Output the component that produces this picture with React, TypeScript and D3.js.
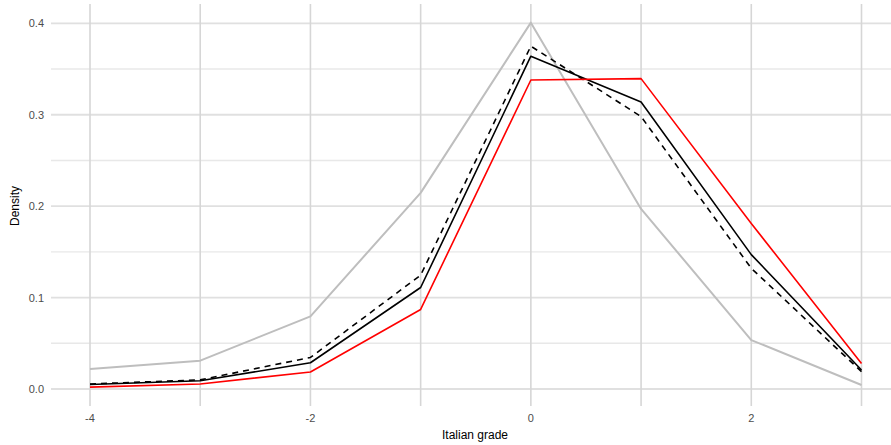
import React, { useEffect, useRef } from "react";
import * as d3 from "d3";

const grades = [-4, -3, -2, -1, 0, 1, 2, 3];
const grayValues = [0.022, 0.031, 0.0795, 0.2145, 0.4007, 0.197, 0.0535, 0.0044];
const blackValues = [0.005, 0.009, 0.0287, 0.111, 0.364, 0.314, 0.147, 0.0208];
const dashedValues = [0.0055, 0.010, 0.0345, 0.1245, 0.375, 0.298, 0.132, 0.019];
const redValues = [0.002, 0.0055, 0.0186, 0.087, 0.338, 0.3395, 0.181, 0.028];
const xTicks = [-4, -2, 0, 2];
const yTicks = [0, 0.1, 0.2, 0.3, 0.4];
const yMinor = [0.05, 0.15, 0.25, 0.35];

const series = [
  { name: "gray", values: grayValues, color: "#bebebe", width: 2, dash: null },
  { name: "black", values: blackValues, color: "#000000", width: 1.6, dash: null },
  { name: "dashed", values: dashedValues, color: "#000000", width: 1.6, dash: "6,5" },
  { name: "red", values: redValues, color: "#ff0000", width: 1.6, dash: null },
];

export default function App() {
  const ref = useRef<SVGSVGElement>(null);

  useEffect(() => {
    const width = 891, height = 445;
    const svg = d3.select(ref.current);
    svg.selectAll("*").remove();

    const x = d3.scaleLinear().domain([-4, 3]).range([90, 861.5]);
    const y = d3.scaleLinear().domain([0, 0.4]).range([389, 23.3]);
    const panelLeft = 51, panelRight = 891, panelTop = 4, panelBottom = 406;

    const grid = svg.append("g");
    grid.selectAll("line.ymin")
      .data(yMinor)
      .enter().append("line")
      .attr("x1", panelLeft).attr("x2", panelRight)
      .attr("y1", d => y(d)).attr("y2", d => y(d))
      .attr("stroke", "#e8e8e8").attr("stroke-width", 1.4);
    grid.selectAll("line.ymaj")
      .data(yTicks)
      .enter().append("line")
      .attr("x1", panelLeft).attr("x2", panelRight)
      .attr("y1", d => y(d)).attr("y2", d => y(d))
      .attr("stroke", "#e0e0e0").attr("stroke-width", 1.8);
    grid.selectAll("line.x")
      .data(grades)
      .enter().append("line")
      .attr("x1", d => x(d)).attr("x2", d => x(d))
      .attr("y1", panelTop).attr("y2", panelBottom)
      .attr("stroke", "#d6d6d6").attr("stroke-width", 1.6);

    const line = d3.line<number>()
      .x((d, i) => x(grades[i]))
      .y(d => y(d));

    series.forEach(s => {
      svg.append("path")
        .datum(s.values)
        .attr("fill", "none")
        .attr("stroke", s.color)
        .attr("stroke-width", s.width)
        .attr("stroke-dasharray", s.dash)
        .attr("stroke-linejoin", "round")
        .attr("d", line);
    });

    const font = "Liberation Sans, Arial, sans-serif";
    svg.selectAll("text.xt")
      .data(xTicks)
      .enter().append("text")
      .attr("x", d => x(d)).attr("y", 422)
      .attr("text-anchor", "middle")
      .attr("font-family", font).attr("font-size", 11)
      .attr("fill", "#4d4d4d")
      .text(d => String(d));
    svg.selectAll("text.yt")
      .data(yTicks)
      .enter().append("text")
      .attr("x", 44).attr("y", d => y(d) + 4)
      .attr("text-anchor", "end")
      .attr("font-family", font).attr("font-size", 11)
      .attr("fill", "#4d4d4d")
      .text(d => d3.format(".1f")(d));

    svg.append("text")
      .attr("x", 475).attr("y", 439)
      .attr("text-anchor", "middle")
      .attr("font-family", font).attr("font-size", 12)
      .attr("fill", "#000")
      .text("Italian grade");
    svg.append("text")
      .attr("transform", "translate(19," + 206 + ") rotate(-90)")
      .attr("text-anchor", "middle")
      .attr("font-family", font).attr("font-size", 12)
      .attr("fill", "#000")
      .text("Density");

    svg.attr("width", width).attr("height", height);
  }, []);

  return (
    <div style={{ position: "absolute", left: 0, top: 0 }}>
      <svg ref={ref} width={891} height={445} style={{ display: "block", background: "#fff" }}></svg>
    </div>
  );
}
